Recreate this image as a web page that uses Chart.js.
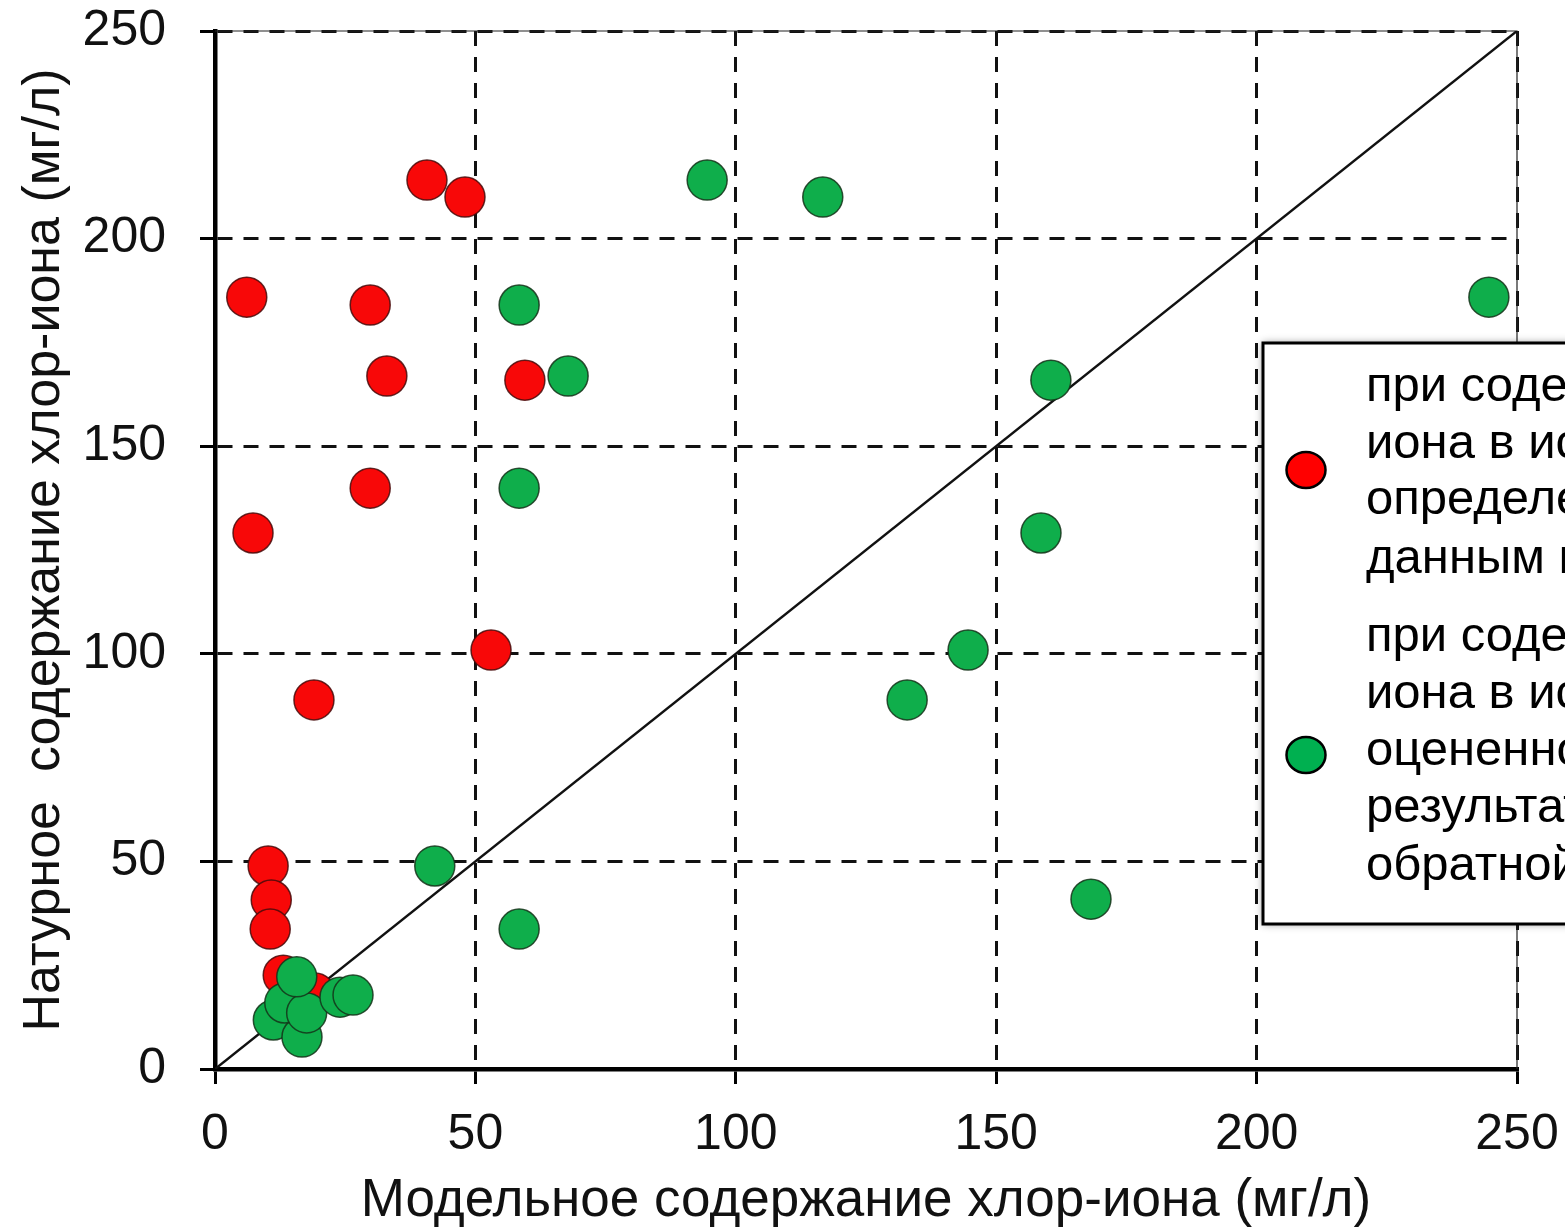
<!DOCTYPE html>
<html>
<head>
<meta charset="utf-8">
<script src="https://cdn.jsdelivr.net/npm/chart.js@4.4.1/dist/chart.umd.min.js"></script>
<style>
  html, body { margin: 0; padding: 0; background: #fff; overflow: hidden; }
  #wrap { width: 1565px; height: 1231px; position: relative; }
</style>
</head>
<body>
<div id="wrap"><canvas id="c" width="1565" height="1231"></canvas></div>
<script>
// ---- data ----
const redX = [40.7, 48.0, 6.1, 29.8, 33.0, 59.5, 29.8, 7.3, 53.0, 19.0, 10.2, 10.8, 10.6, 13.1, 19.2];
const redY = [214.1, 210.0, 185.9, 184.0, 166.9, 165.9, 139.9, 129.1, 100.9, 88.9, 48.9, 40.7, 33.7, 22.6, 18.3];
const greenX = [94.5, 116.7, 58.4, 67.8, 244.6, 160.5, 58.4, 158.6, 144.6, 132.9, 42.2, 168.2, 58.4, 11.2, 16.7, 13.4, 17.6, 24.0, 26.5, 15.7];
const greenY = [214.1, 210.0, 184.0, 166.9, 185.9, 165.9, 139.9, 129.1, 100.9, 88.9, 48.9, 40.9, 33.7, 11.8, 7.7, 15.9, 13.5, 17.3, 17.8, 22.2];
const lineX = [0, 250];
const lineY = [0, 250];
const xTicks = [0, 50, 100, 150, 200, 250];
const yTicks = [0, 50, 100, 150, 200, 250];
const xTitle = 'Модельное содержание хлор-иона (мг/л)';
const yTitle = 'Натурное  содержание хлор-иона (мг/л)';
const legendRed = ['при содержании хлор-', 'иона в исходных водах,', 'определенном по', 'данным мониторинга'];
const legendGreen = ['при содержании хлор-', 'иона в исходных водах,', 'оцененном по', 'результатам решения', 'обратной задачи'];

const FONT = '"Liberation Sans", Arial, sans-serif';
const toPts = (xs, ys) => xs.map((x, i) => ({x: x, y: ys[i]}));

const frameAndLegend = {
  id: 'frameAndLegend',
  beforeDatasetsDraw(chart) {
    const {ctx, chartArea: a} = chart;
    ctx.save();
    ctx.strokeStyle = '#222';
    ctx.lineWidth = 1.2;
    ctx.beginPath();
    ctx.moveTo(a.left, a.top);
    ctx.lineTo(a.right, a.top);
    ctx.lineTo(a.right, a.bottom);
    ctx.stroke();
    ctx.restore();
  },
  afterDraw(chart) {
    const ctx = chart.ctx;
    ctx.save();
    const bx = 1263, by = 343, bw = 400, bh = 581;
    ctx.shadowColor = 'rgba(0,0,0,0.45)';
    ctx.shadowBlur = 8;
    ctx.fillStyle = '#fff';
    ctx.fillRect(bx, by, bw, bh);
    ctx.shadowColor = 'transparent';
    ctx.shadowBlur = 0;
    ctx.lineWidth = 3;
    ctx.strokeStyle = '#000';
    ctx.strokeRect(bx, by, bw, bh);
    const marker = (cx, cy, fill) => {
      ctx.beginPath();
      ctx.ellipse(cx, cy, 19.5, 18, 0, 0, Math.PI * 2);
      ctx.fillStyle = fill;
      ctx.fill();
      ctx.lineWidth = 2.5;
      ctx.strokeStyle = '#000';
      ctx.stroke();
    };
    marker(1306, 470, '#ff0000');
    marker(1306, 755, '#00b050');
    ctx.fillStyle = '#000';
    ctx.font = '49px ' + FONT;
    ctx.textBaseline = 'middle';
    ctx.textAlign = 'left';
    const y1 = [387, 444, 500, 559];
    legendRed.forEach((t, i) => ctx.fillText(t, 1366, y1[i]));
    const y2 = [637, 694, 751, 808, 866];
    legendGreen.forEach((t, i) => ctx.fillText(t, 1366, y2[i]));
    ctx.restore();
  }
};

new Chart(document.getElementById('c'), {
  type: 'scatter',
  data: {
    datasets: [
      {
        label: 'green',
        data: toPts(greenX, greenY),
        backgroundColor: '#0fae4b',
        borderColor: 'rgba(20,50,25,0.85)',
        borderWidth: 1.5,
        pointRadius: 20,
        pointHoverRadius: 20,
        order: 1
      },
      {
        label: 'red',
        data: toPts(redX, redY),
        backgroundColor: '#f80808',
        borderColor: 'rgba(70,10,10,0.85)',
        borderWidth: 1.5,
        pointRadius: 20,
        pointHoverRadius: 20,
        order: 2
      },
      {
        type: 'line',
        label: 'line',
        data: toPts(lineX, lineY),
        borderColor: '#111',
        borderWidth: 2.5,
        pointRadius: 0,
        fill: false,
        order: 3
      }
    ]
  },
  options: {
    responsive: false,
    animation: false,
    events: [],
    layout: { padding: { top: 31, right: 48, left: 0, bottom: 0 } },
    plugins: { legend: { display: false }, tooltip: { enabled: false } },
    scales: {
      x: {
        type: 'linear',
        min: 0, max: 250,
        afterBuildTicks: (s) => { s.ticks = xTicks.map(v => ({value: v})); },
        afterFit: (s) => { s.height = 162; s.paddingLeft = 0; s.paddingRight = 0; },
        grid: { color: '#111', lineWidth: 3, tickLength: 15, tickWidth: 3, tickColor: '#000', tickBorderDash: [] },
        border: { display: true, color: '#000', width: 4.5, dash: [15, 11] },
        ticks: { color: '#111', font: { family: FONT, size: 50 }, padding: 21, maxRotation: 0 },
        title: { display: true, text: xTitle, color: '#111', font: { family: FONT, size: 53, lineHeight: 1.1 }, padding: { top: 0, bottom: 0 } }
      },
      y: {
        type: 'linear',
        min: 0, max: 250,
        afterBuildTicks: (s) => { s.ticks = yTicks.map(v => ({value: v})); },
        afterFit: (s) => { s.width = 215; s.paddingTop = 0; s.paddingBottom = 0; },
        grid: { color: '#111', lineWidth: 3, tickLength: 15, tickWidth: 3, tickColor: '#000', tickBorderDash: [] },
        border: { display: true, color: '#000', width: 4.5, dash: [15, 11] },
        ticks: { color: '#111', font: { family: FONT, size: 50 }, padding: 34 },
        title: { display: true, text: yTitle, color: '#111', font: { family: FONT, size: 52, lineHeight: 1.1 }, padding: { top: 16, bottom: 16 } }
      }
    }
  },
  plugins: [frameAndLegend]
});
</script>
</body>
</html>
